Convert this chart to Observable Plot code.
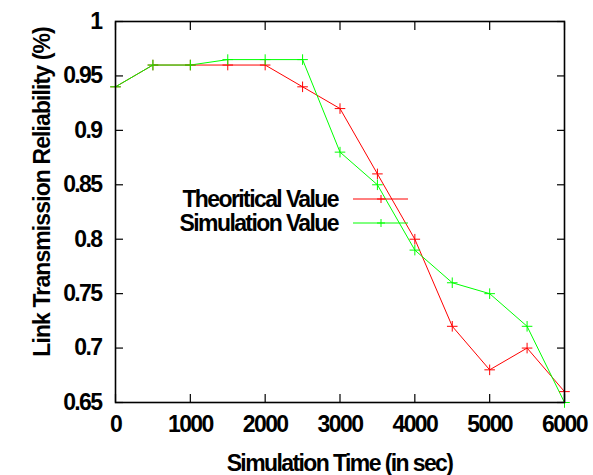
<!DOCTYPE html>
<html><head><meta charset="utf-8">
<script src="https://cdn.jsdelivr.net/npm/d3@7"></script>
<script src="https://cdn.jsdelivr.net/npm/@observablehq/plot@0.6"></script>
<style>
body{margin:0;background:#fff;}
#wrap{position:relative;width:593px;height:475px;}
#wrap svg.overlay{position:absolute;left:0;top:0;pointer-events:none;}
#wrap svg text{font-family:'Liberation Sans', Arial, sans-serif;font-weight:bold;font-size:23px;letter-spacing:-1.6px;}
#wrap svg text.ytitle{letter-spacing:-0.9px;}
</style></head><body><div id="wrap"></div>
<script>
const times = [0,500,1000,1500,2000,2500,3000,3500,4000,4500,5000,5500,6000];
const theoretical = [0.94,0.96,0.96,0.96,0.96,0.94,0.92,0.86,0.80,0.72,0.68,0.70,0.66];
const simulation  = [0.94,0.96,0.96,0.965,0.965,0.965,0.88,0.85,0.79,0.76,0.75,0.72,0.65];
const seriesNames = ["Theoritical Value","Simulation Value"];
const seriesColors = ["#ff0000","#00ff00"];
const xTicks = [0,1000,2000,3000,4000,5000,6000];
const yTicks = [0.65,0.7,0.75,0.8,0.85,0.9,0.95,1];
const xTitle = "Simulation Time (in sec)";
const yTitle = "Link Transmission Reliability (%)";

const rows = [];
times.forEach((t,i)=>rows.push({time:t,value:theoretical[i],series:seriesNames[0]}));
times.forEach((t,i)=>rows.push({time:t,value:simulation[i],series:seriesNames[1]}));

const font = "'Liberation Sans', Arial, sans-serif";
const W = 593, H = 475, mL = 115, mR = 29, mT = 21, mB = 73;
const tf = {fontSize: 23, fontWeight: "bold", fontFamily: font};

const chart = Plot.plot({
  width: W, height: H,
  marginLeft: mL, marginRight: mR, marginTop: mT, marginBottom: mB,
  style: {fontFamily: font, fontSize: "23px", fontWeight: "bold", background: "white", color: "black"},
  x: {domain: [0,6000]},
  y: {domain: [0.65,1]},
  color: {domain: seriesNames, range: seriesColors},
  marks: [
    Plot.axisX({ticks: xTicks, tickSize: 0, tickPadding: 13, tickFormat: d => String(d), label: null, ...tf}),
    Plot.axisY({ticks: yTicks, tickSize: 0, tickPadding: 14, tickFormat: d => String(d), label: null, ...tf}),
    Plot.axisX({ticks: xTicks, anchor: "bottom", tickSize: -8, tickFormat: () => "", label: null, strokeWidth: 1.2}),
    Plot.axisX({ticks: xTicks, anchor: "top", tickSize: -8, tickFormat: () => "", label: null, strokeWidth: 1.2}),
    Plot.axisY({ticks: yTicks, anchor: "left", tickSize: -8, tickFormat: () => "", label: null, strokeWidth: 1.2}),
    Plot.axisY({ticks: yTicks, anchor: "right", tickSize: -8, tickFormat: () => "", label: null, strokeWidth: 1.2}),
    Plot.line(rows, {x: "time", y: "value", z: "series", stroke: "series", strokeWidth: 1}),
    Plot.dot(rows, {x: "time", y: "value", stroke: "series", symbol: "plus", r: 3.5, strokeWidth: 1}),
    Plot.frame({stroke: "black", strokeWidth: 1.6})
  ]
});
const wrap = document.getElementById("wrap");
wrap.appendChild(chart);

// overlay: axis titles and legend
const svg = d3.create("svg").attr("class","overlay").attr("width",W).attr("height",H);
svg.append("text").attr("x", mL + (W-mL-mR)/2).attr("y", 471).attr("text-anchor","middle").text(xTitle);
svg.append("text").attr("class","ytitle").attr("transform","translate(50,192) rotate(-90)").attr("text-anchor","middle").text(yTitle);
const lg = svg.append("g");
seriesNames.forEach((name,i)=>{
  const y = 199 + i*24;
  lg.append("text").attr("x",338).attr("y",y+8).attr("text-anchor","end").text(name);
  lg.append("line").attr("x1",353).attr("x2",408).attr("y1",y).attr("y2",y).attr("stroke",seriesColors[i]).attr("stroke-width",1);
  lg.append("path").attr("d",`M377,${y}h8M381,${y-4}v8`).attr("stroke",seriesColors[i]).attr("stroke-width",1);
});
wrap.appendChild(svg.node());
</script></body></html>
